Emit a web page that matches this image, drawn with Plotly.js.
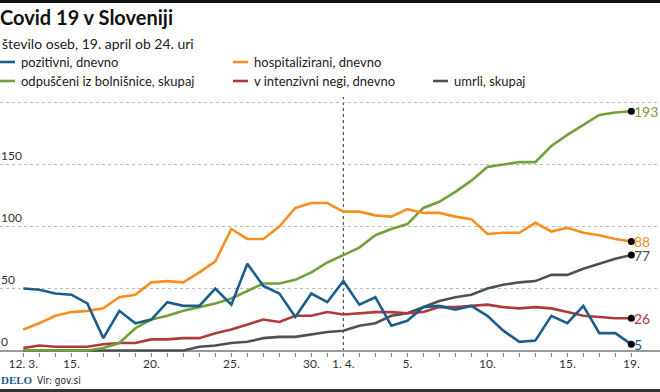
<!DOCTYPE html>
<html><head><meta charset="utf-8">
<script src="https://cdn.plot.ly/plotly-3.0.1.min.js"></script>
<style>html,body{margin:0;padding:0;background:#fff}#chart{width:660px;height:392px}</style>
</head><body><div id="chart"></div>
<script>
const dates = ['2020-03-12','2020-03-13','2020-03-14','2020-03-15','2020-03-16','2020-03-17','2020-03-18','2020-03-19','2020-03-20','2020-03-21','2020-03-22','2020-03-23','2020-03-24','2020-03-25','2020-03-26','2020-03-27','2020-03-28','2020-03-29','2020-03-30','2020-03-31','2020-04-01','2020-04-02','2020-04-03','2020-04-04','2020-04-05','2020-04-06','2020-04-07','2020-04-08','2020-04-09','2020-04-10','2020-04-11','2020-04-12','2020-04-13','2020-04-14','2020-04-15','2020-04-16','2020-04-17','2020-04-18','2020-04-19'];
const pozitivni = [50,49,46,45,38,10,32,22,25,39,36,36,50,37,70,52,46,27,46,39,56,37,43,20,24,35,36,33,36,28,16,7,8,28,22,36,14,14,5];
const hospitalizirani = [17,22,28,31,32,34,43,45,55,56,55,63,72,98,90,90,100,115,119,119,112,112,109,108,114,111,111,108,106,94,95,95,103,96,99,95,93,90,88];
const odpusceni = [0,0,0,0,0,2,6,18,25,28,32,35,38,42,48,54,54,57,63,71,77,83,93,98,102,115,120,128,137,148,150,152,152,165,174,182,190,192,193];
const intenzivna = [2,4,3,3,3,5,6,6,9,9,10,10,14,17,21,25,23,28,28,31,29,30,31,31,30,31,35,35,36,37,35,34,35,34,31,28,27,26,26];
const umrli = [0,0,0,0,0,0,0,0,0,0,0,3,4,6,7,10,11,11,13,15,16,20,22,28,30,35,40,43,45,50,53,55,56,61,61,66,70,74,77];
const seriesNames = ['pozitivni, dnevno','hospitalizirani, dnevno','odpuščeni iz bolnišnice, skupaj','v intenzivni negi, dnevno','umrli, skupaj'];
const tickDates = ['2020-03-12','2020-03-15','2020-03-20','2020-03-25','2020-03-30','2020-04-01','2020-04-05','2020-04-10','2020-04-15','2020-04-19'];
const tickLabels = ['12. 3.','15.','20.','25.','30.','1. 4.','5.','10.','15.','19.'];
const yTicks = [0,50,100,150,200];
const yTickLabels = ['0','50','100','150',''];

const colors = ['#1c5d8c','#f5901f','#72a03b','#ae3b3a','#505050'];
const FONT = 'Lato, "Open Sans", sans-serif';
const all = [pozitivni,hospitalizirani,odpusceni,intenzivna,umrli];
const drawOrder = [4,3,2,1,0];
const traces = drawOrder.map(i => ({
  x: dates, y: all[i], type:'scatter', mode:'lines', name: seriesNames[i],
  line:{color:colors[i], width:2.6}, hoverinfo:'skip'
}));
const last = dates.length-1;
traces.push({
  x: all.map(()=>dates[last]), y: all.map(s=>s[last]), type:'scatter', mode:'markers',
  marker:{color:'#000', size:7}, hoverinfo:'skip'
});
// one tick per day; labels only on the labelled dates
const dayTickText = dates.map(d => { const k = tickDates.indexOf(d); return k >= 0 ? tickLabels[k] : ''; });

const H = 255, BOT = 352;
const py = v => (BOT - v)/H;
const px = v => v/660;
const annotations = all.map((s,i)=>({
  x: dates[last], y: s[last], xref:'x', yref:'y', text: String(s[last]),
  showarrow:false, xanchor:'left', xshift:2, yanchor:'middle', borderpad:0,
  font:{family:FONT, size:14, color:colors[i]}
}));
yTicks.forEach((v,i)=>{ if(yTickLabels[i]) annotations.push({x:0, y:v, xref:'paper', yref:'y', text:yTickLabels[i],
  showarrow:false, xanchor:'left', yanchor:'bottom', yshift:1, borderpad:0, font:{family:FONT, size:12, color:'#333'}}); });
annotations.push({x:0, y:py(43), xref:'paper', yref:'paper', xanchor:'left', yanchor:'middle', showarrow:false,
  text:'število oseb, 19. april ob 24. uri', font:{family:FONT, size:14, color:'#222'}});
const legendPos = [[0,62],[233,62],[0,81],[233,81],[433,81]];
const shapes = [];
legendPos.forEach((p,i)=>{
  shapes.push({type:'line', xref:'paper', yref:'paper', x0:px(p[0]), x1:px(p[0]+15), y0:py(p[1]), y1:py(p[1]), line:{color:colors[i], width:2.6}});
  annotations.push({x:px(p[0]+19), y:py(p[1]), xref:'paper', yref:'paper', xanchor:'left', yanchor:'middle', showarrow:false,
    text:seriesNames[i], font:{family:FONT, size:13, color:'#222'}});
});
annotations.push({x:0, y:py(380), xref:'paper', yref:'paper', xanchor:'left', yanchor:'middle', showarrow:false, borderpad:0,
  text:'<b>DELO</b>', font:{family:'"Liberation Serif", serif', size:11, color:'#1c5d8c'}});
annotations.push({x:px(36), y:py(380), xref:'paper', yref:'paper', xanchor:'left', yanchor:'middle', showarrow:false, borderpad:0,
  text:'Vir: gov.si', font:{family:'"Liberation Sans Narrow", "DejaVu Sans Condensed", sans-serif', size:10, color:'#222'}});
shapes.push({type:'rect', xref:'paper', yref:'paper', x0:0, x1:1, y0:py(0), y1:py(3), fillcolor:'#111', line:{width:0}});
shapes.push({type:'rect', xref:'paper', yref:'paper', x0:0, x1:1, y0:py(389), y1:py(392), fillcolor:'#333', line:{width:0}});
shapes.push({type:'line', xref:'x', yref:'paper', x0:'2020-04-01', x1:'2020-04-01', y0:py(357), y1:1, line:{color:'#333', width:1, dash:'dot'}, layer:'below'});

const layout = {
  width:660, height:392, margin:{l:0, r:0, t:97, b:40},
  paper_bgcolor:'#fff', plot_bgcolor:'#fff', showlegend:false,
  font:{family:FONT, color:'#222'},
  title:{text:'<b>Covid 19 v Sloveniji</b>', x:0, xanchor:'left', xref:'container', y:1-18/392, yanchor:'middle', font:{family:FONT, size:20, color:'#111'}},
  xaxis:{type:'date', range:['2020-03-10 13:00','2020-04-20 19:00'], tickmode:'array', tickvals:dates, ticktext:dayTickText,
    showticklabels:true, tickangle:0, ticks:'outside', ticklen:4, tickcolor:'#888', tickwidth:1, ticklabelstandoff:-3,
    showgrid:false, zeroline:false, showline:false, tickfont:{family:FONT, size:12, color:'#333'}},
  yaxis:{range:[-1.2, 204.5], tickmode:'array', tickvals:yTicks, showticklabels:false,
    showgrid:true, gridcolor:'#bbb', griddash:'dot', gridwidth:1, zeroline:true, zerolinecolor:'#999', zerolinewidth:2,
    showline:false, ticks:''},
  shapes: shapes, annotations: annotations
};
Plotly.newPlot('chart', traces, layout, {displayModeBar:false, staticPlot:true});
</script></body></html>
